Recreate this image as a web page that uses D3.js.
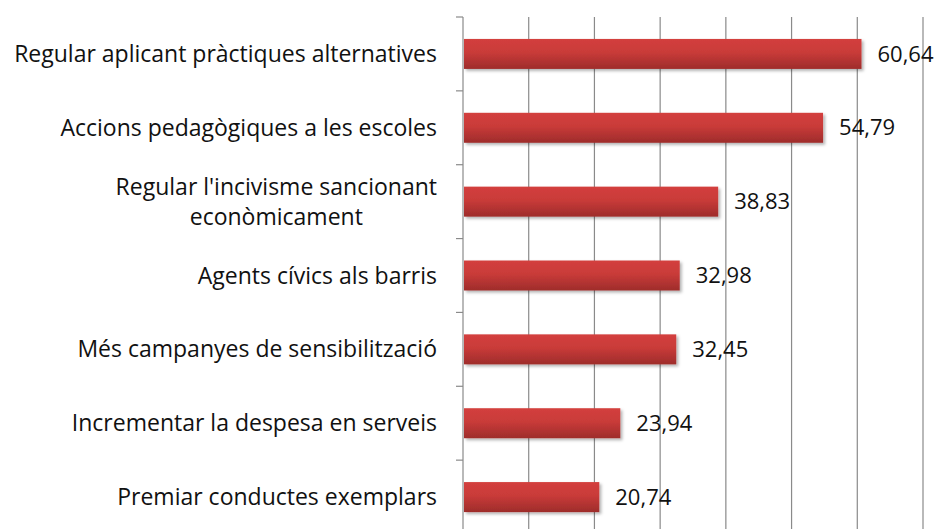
<!DOCTYPE html>
<html>
<head>
<meta charset="utf-8">
<script src="https://cdn.jsdelivr.net/npm/d3@7"></script>
<style>
  body { margin: 0; background: #fff; }
  text { font-family: "Open Sans", "Noto Sans", sans-serif; fill: #111; }
</style>
</head>
<body>
<div class="chart"></div>
<script>
// data
var categories = [
  "Regular aplicant pràctiques alternatives",
  "Accions pedagògiques a les escoles",
  "Regular l'incivisme sancionant|econòmicament",
  "Agents cívics als barris",
  "Més campanyes de sensibilització",
  "Incrementar la despesa en serveis",
  "Premiar conductes exemplars"
];
var values = [60.64, 54.79, 38.83, 32.98, 32.45, 23.94, 20.74];
var gridTicks = [0, 10, 20, 30, 40, 50, 60, 70];

var svgWidth = 941, svgHeight = 529;
var margin = { top: 17, left: 463, right: 18 };
var plotBottom = 534;

var svg = d3.select(".chart")
  .append("svg")
  .attr("width", svgWidth)
  .attr("height", svgHeight);

var defs = svg.append("defs");
var grad = defs.append("linearGradient")
  .attr("id", "barGrad")
  .attr("x1", 0).attr("y1", 0).attr("x2", 0).attr("y2", 1);
grad.append("stop").attr("offset", "0%").attr("stop-color", "#d33f3d");
grad.append("stop").attr("offset", "45%").attr("stop-color", "#c93b39");
grad.append("stop").attr("offset", "100%").attr("stop-color", "#9e2c2b");

var shadow = defs.append("filter").attr("id", "shadow")
  .attr("x", "-5%").attr("y", "-20%").attr("width", "115%").attr("height", "160%");
shadow.append("feDropShadow")
  .attr("dx", 2).attr("dy", 2).attr("stdDeviation", 1.5)
  .attr("flood-color", "#000").attr("flood-opacity", 0.3);

// scales
var xScale = d3.scaleLinear()
  .domain([0, 70])
  .range([margin.left, svgWidth - margin.right]);

var yScale = d3.scaleBand()
  .domain(categories)
  .range([margin.top, plotBottom])
  .paddingInner(0.594)
  .paddingOuter(0.297);

var step = yScale.step();

// vertical grid lines
svg.append("g")
  .selectAll("line")
  .data(gridTicks)
  .enter()
  .append("line")
  .attr("x1", d => xScale(d))
  .attr("x2", d => xScale(d))
  .attr("y1", margin.top)
  .attr("y2", plotBottom)
  .attr("stroke", "#8a8a8a")
  .attr("stroke-width", 1.2);

// category tick marks on the left of the axis
var boundaries = d3.range(categories.length + 1);
svg.append("g")
  .selectAll("line")
  .data(boundaries)
  .enter()
  .append("line")
  .attr("x1", xScale(0) - 7)
  .attr("x2", xScale(0))
  .attr("y1", d => margin.top + d * step)
  .attr("y2", d => margin.top + d * step)
  .attr("stroke", "#8a8a8a")
  .attr("stroke-width", 1.2);

// bars
svg.append("g")
  .selectAll("rect")
  .data(values)
  .enter()
  .append("rect")
  .attr("x", xScale(0) + 1)
  .attr("y", (d, i) => yScale(categories[i]))
  .attr("width", d => xScale(d) - xScale(0) - 1)
  .attr("height", yScale.bandwidth())
  .attr("fill", "url(#barGrad)")
  .attr("filter", "url(#shadow)");

// value labels
svg.append("g")
  .selectAll("text")
  .data(values)
  .enter()
  .append("text")
  .attr("x", d => xScale(d) + 16)
  .attr("y", (d, i) => yScale(categories[i]) + yScale.bandwidth() / 2)
  .attr("dy", "0.35em")
  .style("font-size", "22px")
  .text(d => d.toFixed(2).replace(".", ","));

// category labels
var labels = svg.append("g")
  .selectAll("text")
  .data(categories)
  .enter()
  .append("text")
  .attr("text-anchor", "middle")
  .style("font-size", "23px");

labels.each(function(d) {
  var lines = d.split("|");
  var t = d3.select(this);
  var cy = yScale(d) + yScale.bandwidth() / 2;
  lines.forEach(function(line, j) {
    t.append("tspan")
      .attr("x", 0)
      .attr("y", cy + (j - (lines.length - 1) / 2) * 30)
      .attr("dy", "0.35em")
      .text(line);
  });
});

// right edge of the widest line sits next to the axis, other lines centred under it
labels.each(function(d) {
  var w = this.getBBox().width;
  d3.select(this).selectAll("tspan").attr("x", 437 - w / 2);
});
</script>
</body>
</html>
